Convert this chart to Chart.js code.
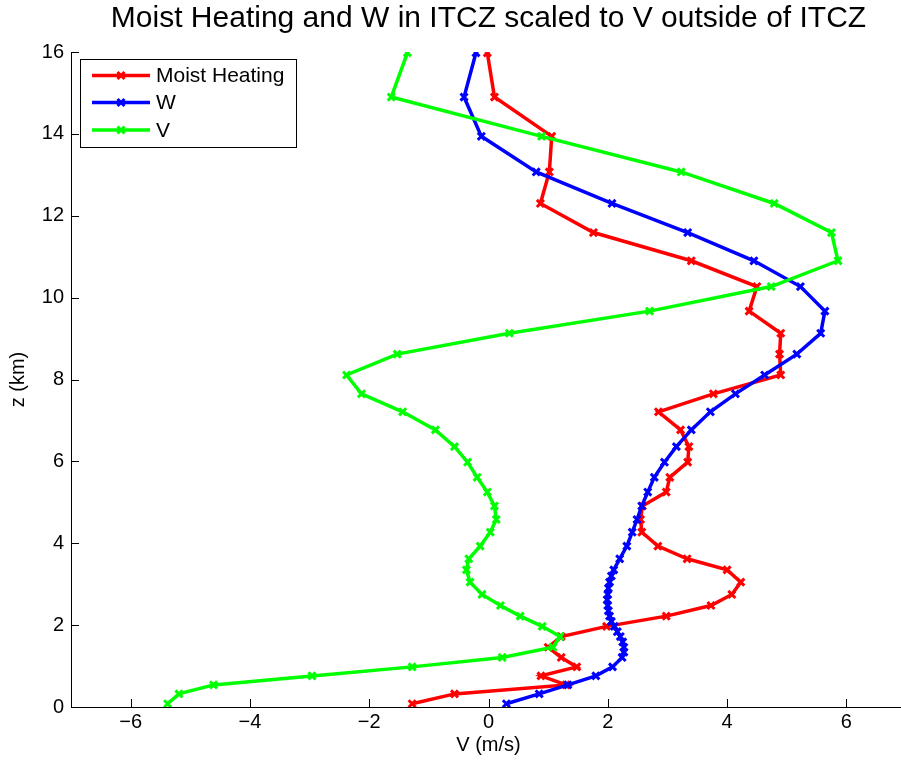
<!DOCTYPE html>
<html>
<head>
<meta charset="utf-8">
<script src="https://cdn.jsdelivr.net/npm/chart.js@4/dist/chart.umd.min.js"></script>
<style>
html, body { margin: 0; padding: 0; background: #fff; overflow: hidden; }
#wrap { width: 977px; height: 764px; }
#myChart { width: 977px; height: 764px; }
</style>
</head>
<body>
<div id="wrap"><canvas id="myChart" width="977" height="764"></canvas></div>
<script>
// model levels (km) shared by moist heating and V
const zLevels = [0.08, 0.32, 0.54, 0.76, 0.98, 1.21, 1.46, 1.72, 1.97, 2.22,
    2.48, 2.75, 3.05, 3.35, 3.62, 3.93, 4.27, 4.58, 4.91, 5.25,
    5.61, 5.98, 6.36, 6.77, 7.21, 7.65, 8.11, 8.62, 9.13, 9.67,
    10.27, 10.9, 11.59, 12.3, 13.07, 13.94, 14.9, 15.98]

const moistHeating = [-1.28, -0.57, 1.30, 0.88, 1.48, 1.22, 1.00, 1.22, 1.98, 2.98,
    3.73, 4.08, 4.23, 4.00, 3.33, 2.84, 2.57, 2.55, 2.58, 2.98,
    3.04, 3.34, 3.36, 3.22, 2.85, 3.77, 4.90, 4.88, 4.90, 4.37,
    4.50, 3.40, 1.76, 0.87, 1.02, 1.06, 0.10, -0.02]

const vOutside = [-5.38, -5.19, -4.61, -2.96, -1.28, 0.23, 1.08, 1.20, 0.90, 0.53,
    0.20, -0.11, -0.31, -0.37, -0.33, -0.14, 0.03, 0.13, 0.10, -0.02,
    -0.19, -0.35, -0.57, -0.89, -1.44, -2.13, -2.38, -1.53, 0.35, 2.70,
    4.74, 5.86, 5.75, 4.79, 3.23, 0.89, -1.63, -1.36]

// W is on a finer grid near the bottom
const wLevels = [0.08, 0.32, 0.54, 0.76, 0.98, 1.21, 1.34, 1.46, 1.59, 1.72,
    1.84, 1.97, 2.09, 2.22, 2.35, 2.48, 2.62, 2.75, 2.90, 3.05,
    3.20, 3.35, 3.62, 3.93, 4.27, 4.58, 4.91, 5.25, 5.61, 5.98,
    6.36, 6.77, 7.21, 7.65, 8.11, 8.62, 9.13, 9.67, 10.27, 10.9,
    11.59, 12.3, 13.07, 13.94, 14.9, 15.98]

const wITCZ = [0.30, 0.85, 1.33, 1.80, 2.08, 2.24, 2.27, 2.27, 2.25, 2.21,
    2.16, 2.11, 2.06, 2.03, 2.01, 2.00, 1.99, 2.00, 2.01, 2.03,
    2.06, 2.10, 2.20, 2.32, 2.41, 2.49, 2.57, 2.67, 2.78, 2.95,
    3.15, 3.40, 3.72, 4.14, 4.63, 5.17, 5.57, 5.64, 5.23, 4.45,
    3.34, 2.07, 0.80, -0.12, -0.41, -0.21]

const xTicks = [-6, -4, -2, 0, 2, 4, 6]
const zTicks = [0, 2, 4, 6, 8, 10, 12, 14, 16]

const seriesNames = ["Moist Heating", "W", "V"]
const seriesColors = ["#ff0000", "#0000ff", "#00ff00"]

const FONT = "'Liberation Sans', Arial, Helvetica, sans-serif"

function pairs(xs, zs){
    return xs.map((v, i) => ({x: v, y: zs[i]}))
}

function makeSet(i, xs, zs, order){
    return {
        label: seriesNames[i],
        data: pairs(xs, zs),
        borderColor: seriesColors[i],
        backgroundColor: seriesColors[i],
        borderWidth: 3.5,
        pointStyle: "crossRot",
        pointRadius: 5,
        pointBorderWidth: 3,
        pointBorderColor: seriesColors[i],
        tension: 0,
        fill: false,
        order: order
    }
}

function minus(v){
    return String(v).replace("-", "\u2212")
}

// inward tick marks plus a matlab-like legend box
const matlabBits = {
    id: "matlabBits",
    afterDraw(chart){
        const ctx = chart.ctx
        const xs = chart.scales.x, ys = chart.scales.y
        const area = chart.chartArea
        ctx.save()
        ctx.strokeStyle = "#000"
        ctx.lineWidth = 1
        ctx.beginPath()
        xTicks.forEach(t => {
            const px = Math.round(xs.getPixelForValue(t)) + 0.5
            ctx.moveTo(px, area.bottom)
            ctx.lineTo(px, area.bottom - 8)
        })
        zTicks.forEach(t => {
            const py = Math.round(ys.getPixelForValue(t)) + 0.5
            ctx.moveTo(area.left, py)
            ctx.lineTo(area.left + 8, py)
        })
        ctx.stroke()

        // legend
        const bx = 80.5, by = 59.5, bw = 216, bh = 88
        ctx.fillStyle = "#fff"
        ctx.fillRect(bx, by, bw, bh)
        ctx.strokeRect(bx, by, bw, bh)
        const rows = [75.5, 102.5, 130]
        ctx.font = "21px " + FONT
        ctx.textBaseline = "middle"
        chart.data.datasets.forEach((ds, i) => {
            const y = rows[i]
            ctx.strokeStyle = ds.borderColor
            ctx.lineWidth = ds.borderWidth
            ctx.beginPath()
            ctx.moveTo(92, y)
            ctx.lineTo(150, y)
            ctx.stroke()
            ctx.lineWidth = ds.pointBorderWidth
            Chart.helpers.drawPoint(ctx, {pointStyle: ds.pointStyle, radius: ds.pointRadius, borderWidth: ds.pointBorderWidth, rotation: 0}, 121, y)
            ctx.fillStyle = "#000"
            ctx.fillText(ds.label, 156, y + 1)
        })
        ctx.restore()
    }
}

new Chart("myChart", {
    type: "line",
    data: {
        datasets: [
            makeSet(0, moistHeating, zLevels, 2),
            makeSet(1, wITCZ, wLevels, 1),
            makeSet(2, vOutside, zLevels, 0)
        ]
    },
    options: {
        responsive: false,
        animation: false,
        layout: {autoPadding: false, padding: 0},
        plugins: {
            legend: {display: false},
            tooltip: {enabled: false},
            title: {
                display: true,
                text: "Moist Heating and W in ITCZ scaled to V outside of ITCZ",
                color: "#000",
                font: {family: FONT, size: 30, weight: "normal"},
                padding: {top: 1, bottom: 15}
            }
        },
        scales: {
            x: {
                type: "linear",
                min: -7,
                max: 7,
                afterBuildTicks: s => { s.ticks = xTicks.map(v => ({value: v})) },
                afterFit: s => { s.height = 57 },
                grid: {drawOnChartArea: false, drawTicks: false},
                border: {color: "#000", width: 1},
                ticks: {
                    color: "#000",
                    font: {family: FONT, size: 20},
                    padding: 3,
                    maxRotation: 0,
                    callback: v => minus(v)
                },
                title: {
                    display: true,
                    text: "V (m/s)",
                    color: "#000",
                    font: {family: FONT, size: 20},
                    padding: {top: 0, bottom: 7}
                }
            },
            y: {
                type: "linear",
                min: 0,
                max: 16,
                afterBuildTicks: s => { s.ticks = zTicks.map(v => ({value: v})) },
                afterFit: s => { s.width = 71 },
                grid: {drawOnChartArea: false, drawTicks: false},
                border: {color: "#000", width: 1},
                ticks: {
                    color: "#000",
                    font: {family: FONT, size: 20},
                    padding: 7,
                    callback: v => minus(v)
                },
                title: {
                    display: true,
                    text: "z (km)",
                    color: "#000",
                    font: {family: FONT, size: 20},
                    padding: {top: 6, bottom: 0}
                }
            },
            // empty right-hand spacer so the title centres over the axes
            spacer: {
                type: "linear",
                position: "right",
                min: 0,
                max: 16,
                afterFit: s => { s.width = 71 },
                grid: {display: false},
                border: {display: false},
                ticks: {display: false}
            }
        }
    },
    plugins: [matlabBits]
})
</script>
</body>
</html>
